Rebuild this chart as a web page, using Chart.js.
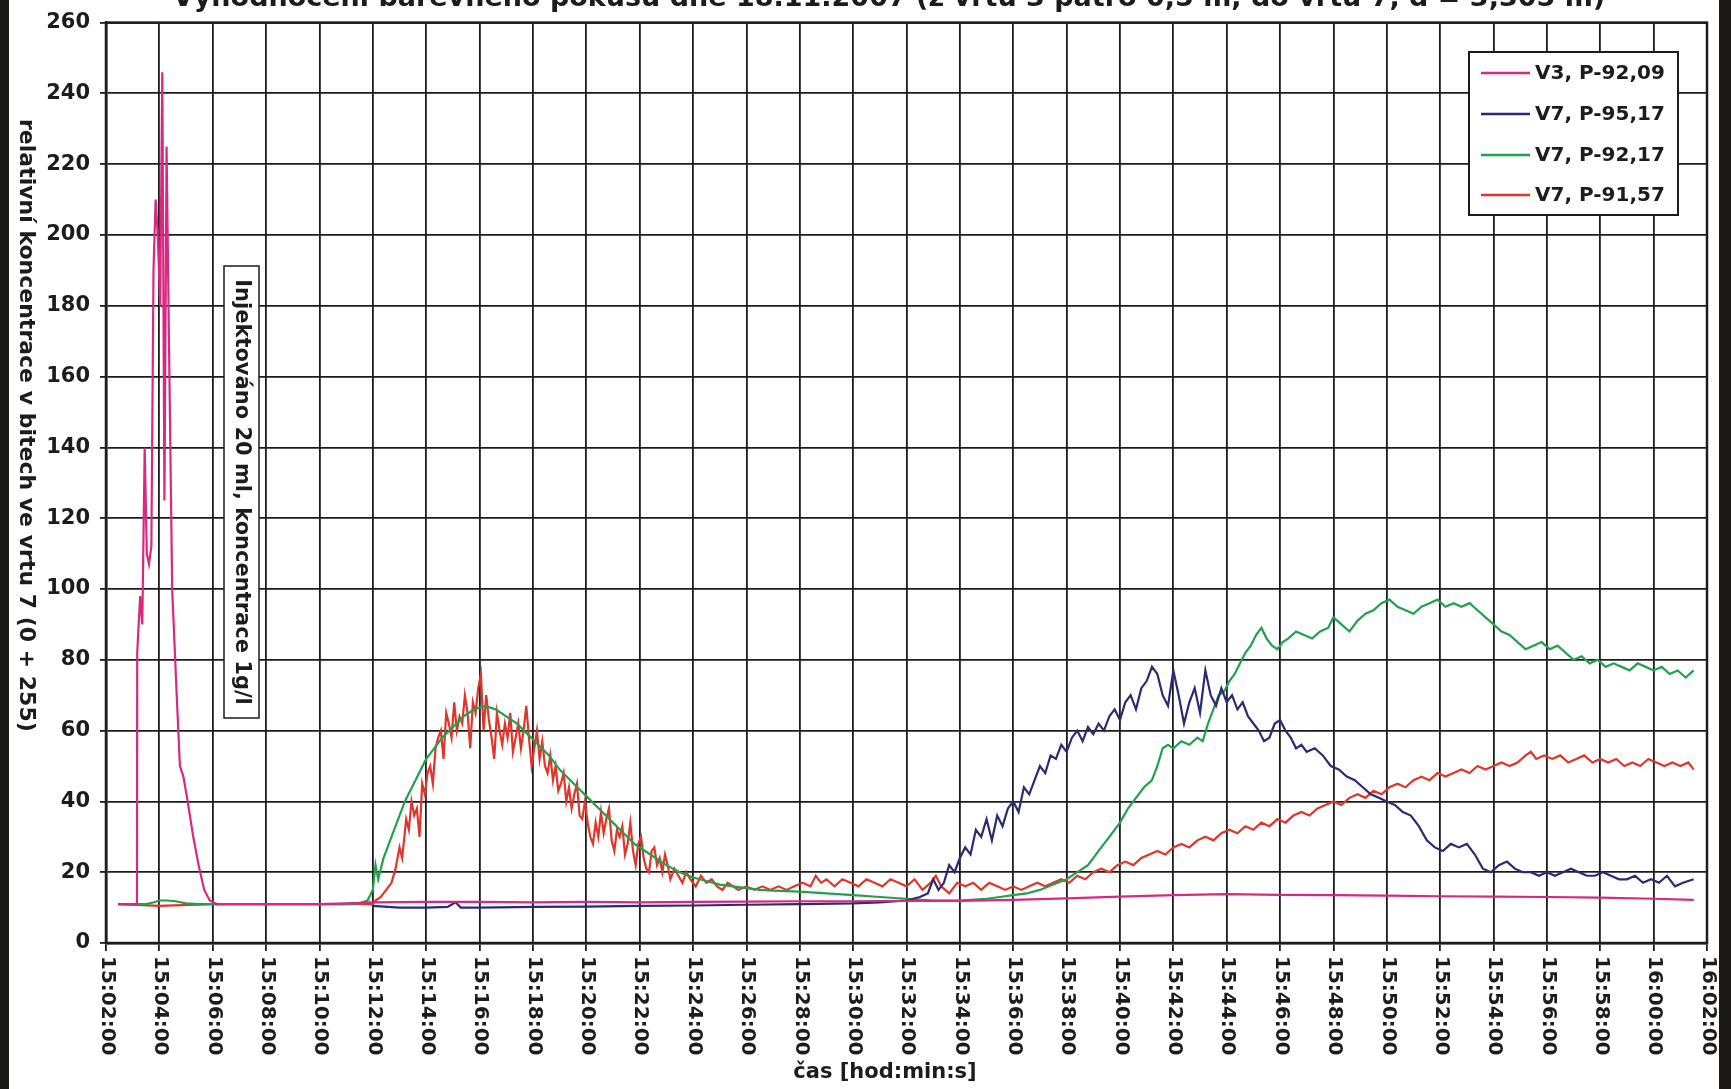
<!DOCTYPE html>
<html>
<head>
<meta charset="utf-8">
<script src="https://cdn.jsdelivr.net/npm/chart.js@4.4.1/dist/chart.umd.min.js"></script>
<style>
  html, body { margin: 0; padding: 0; background: #1b1714; }
  #wrap { width: 1731px; height: 1089px; }
</style>
</head>
<body>
<div id="wrap"><canvas id="chart" width="1731" height="1089"></canvas></div>
<script>
// time in minutes after 15:00, value in bits
const chartTitle = 'Vyhodnocení barevného pokusu dne 18.11.2007 (z vrtu 3 patro 0,5 m, do vrtu 7, d = 3,305 m)';
const yTitle = 'relativní koncentrace v bitech ve vrtu 7 (0 + 255)';
const xTitle = 'čas [hod:min:s]';
const noteText = 'Injektováno 20 ml, koncentrace 1g/l';
const seriesLabels = ['V3, P-92,09', 'V7, P-95,17', 'V7, P-92,17', 'V7, P-91,57'];
const seriesColors = ['#d8287f', '#2c2a72', '#22a04e', '#e0352a'];

const v3Data = [
  [2.45,11],[3.0,11],[3.16,11],[3.17,82],[3.28,98],[3.36,90],[3.45,140],[3.53,110],[3.61,107],[3.7,112],
  [3.78,190],[3.86,210],[3.94,200],[4.03,180],[4.11,246],[4.19,125],[4.27,225],[4.36,170],[4.48,100],[4.65,70],
  [4.77,50],[4.9,47],[5.06,40],[5.27,30],[5.47,22],[5.68,15],[5.89,12],[6.14,11],[7,11],[8,11],
  [9,11],[10,11],[11,11.2],[12,11.5],[14,11.6],[16,11.6],[18,11.5],[20,11.6],[22,11.5],[24,11.6],
  [26,11.7],[28,11.8],[30,11.8],[32,11.9],[34,11.9],[36,12.2],[38,12.6],[40,13.1],[42,13.5],[44,13.8],
  [46,13.6],[48,13.5],[50,13.4],[52,13.2],[54,13.1],[56,13],[58,12.8],[60,12.5],[61.5,12.2]
];

const v7aData = [
  [12.0,10.5],[13,10],[14,10],[14.8,10.2],[15.1,11.5],[15.3,10],[16,10],[18,10.2],[20,10.3],[22,10.5],
  [24,10.6],[26,10.8],[28,11],[30,11.2],[31,11.5],[32,12],[32.5,13],[32.8,14],[33.0,18],[33.2,15],
  [33.4,17],[33.6,22],[33.8,20],[34.0,24],[34.2,27],[34.4,25],[34.6,32],[34.8,30],[35.0,35],[35.2,29],
  [35.4,36],[35.6,33],[35.8,38],[36.0,40],[36.2,37],[36.4,44],[36.6,42],[36.8,46],[37.0,50],[37.2,48],
  [37.4,53],[37.6,52],[37.8,56],[38.0,54],[38.2,58],[38.4,60],[38.6,57],[38.8,61],[39.0,59],[39.2,62],
  [39.4,60],[39.6,64],[39.8,66],[40.0,63],[40.2,68],[40.4,70],[40.6,66],[40.8,72],[41.0,74],[41.2,78],
  [41.4,76],[41.6,70],[41.8,67],[42.0,77],[42.2,70],[42.4,62],[42.6,68],[42.8,72],[43.0,65],[43.2,77],
  [43.4,70],[43.6,67],[43.8,72],[44.0,68],[44.2,70],[44.4,66],[44.6,68],[44.8,64],[45.0,62],[45.2,60],
  [45.4,57],[45.6,58],[45.8,62],[46.0,63],[46.2,60],[46.4,58],[46.6,55],[46.8,56],[47.0,54],[47.3,55],
  [47.6,53],[47.9,50],[48.2,49],[48.5,47],[48.8,46],[49.1,44],[49.4,42],[49.7,41],[50.0,40],[50.3,39],
  [50.6,37],[50.9,36],[51.2,33],[51.5,29],[51.8,27],[52.1,26],[52.4,28],[52.7,27],[53.0,28],[53.3,25],
  [53.6,21],[53.9,20],[54.2,22],[54.5,23],[54.8,21],[55.1,20],[55.4,20],[55.7,19],[56.0,20],[56.3,19],
  [56.6,20],[56.9,21],[57.2,20],[57.5,19],[57.8,19],[58.1,20],[58.4,19],[58.7,18],[59.0,18],[59.3,19],
  [59.6,17],[59.9,18],[60.2,17],[60.5,19],[60.8,16],[61.1,17],[61.5,18]
];

const v7bData = [
  [2.45,11],[3,11],[3.5,11],[3.8,11.5],[4.0,12],[4.3,12],[4.6,11.8],[5.0,11.2],[5.5,11],[6,11],
  [8,11],[10,11],[11,11],[11.5,11.2],[11.8,12],[12.0,15],[12.1,22],[12.2,18],[12.4,24],[12.6,28],
  [12.8,32],[13.0,36],[13.2,40],[13.4,43],[13.6,46],[13.8,49],[14.0,52],[14.3,55],[14.6,58],[15.0,61],
  [15.4,64],[15.8,66],[16.2,67],[16.6,66],[17.0,64],[17.4,62],[17.8,59],[18.2,56],[18.6,53],[19.0,49],
  [19.4,46],[19.8,43],[20.2,40],[20.6,37],[21.0,34],[21.4,31],[21.8,28],[22.2,26],[22.6,24],[23.0,22],
  [23.5,20],[24.0,18.5],[24.5,17.5],[25.0,16.5],[25.5,16],[26.0,15.5],[26.5,15],[27.0,14.8],[28.0,14.5],[29.0,14],
  [30.0,13.5],[31.0,13],[32.0,12.5],[33.0,12],[34.0,12],[35.0,12.5],[35.5,13],[36.0,13.5],[36.5,14],[37.0,15],
  [37.5,16.5],[38.0,18],[38.4,20],[38.8,22],[39.2,26],[39.6,30],[40.0,34],[40.3,38],[40.6,41],[40.9,44],
  [41.2,46],[41.4,50],[41.6,55],[41.8,56],[42.0,55],[42.3,57],[42.6,56],[42.9,58],[43.1,57],[43.3,62],
  [43.5,66],[43.7,70],[43.9,71],[44.1,74],[44.3,76],[44.5,79],[44.7,82],[44.9,84],[45.1,87],[45.3,89],
  [45.5,86],[45.7,84],[45.9,83],[46.1,85],[46.3,86],[46.6,88],[46.9,87],[47.2,86],[47.5,88],[47.8,89],
  [48.0,92],[48.3,90],[48.6,88],[48.9,91],[49.2,93],[49.5,94],[49.8,96],[50.1,97],[50.4,95],[50.7,94],
  [51.0,93],[51.3,95],[51.6,96],[51.9,97],[52.2,95],[52.5,96],[52.8,95],[53.1,96],[53.4,94],[53.7,92],
  [54.0,90],[54.3,88],[54.6,87],[54.9,85],[55.2,83],[55.5,84],[55.8,85],[56.1,83],[56.4,84],[56.7,82],
  [57.0,80],[57.3,81],[57.6,79],[57.9,80],[58.2,78],[58.5,79],[58.8,78],[59.1,77],[59.4,79],[59.7,78],
  [60.0,77],[60.3,78],[60.6,76],[60.9,77],[61.2,75],[61.5,77]
];

const v7cData = [
  [2.45,11],[4,10.5],[6,11],[8,11],[10,11],[12.0,11],[12.1,12],[12.3,13],[12.5,15],[12.7,17],
  [12.85,21],[13.0,27],[13.1,24],[13.25,35],[13.35,32],[13.45,40],[13.55,36],[13.65,38],[13.75,30],[13.85,45],
  [13.95,42],[14.05,48],[14.15,50],[14.25,45],[14.35,55],[14.45,58],[14.55,60],[14.65,52],[14.75,65],[14.85,62],
  [14.95,58],[15.05,68],[15.15,60],[15.25,64],[15.35,62],[15.45,70],[15.55,65],[15.65,55],[15.75,68],[15.85,65],
  [15.95,72],[16.05,76],[16.15,60],[16.25,70],[16.35,63],[16.45,58],[16.55,52],[16.65,65],[16.75,60],[16.85,56],
  [16.95,62],[17.05,58],[17.15,65],[17.25,54],[17.35,58],[17.45,62],[17.55,55],[17.65,60],[17.75,67],[17.85,58],
  [17.95,50],[18.05,55],[18.15,60],[18.25,52],[18.35,57],[18.45,50],[18.55,48],[18.65,53],[18.75,46],[18.85,50],
  [18.95,43],[19.05,45],[19.15,48],[19.25,40],[19.35,44],[19.45,38],[19.55,42],[19.65,45],[19.75,36],[19.85,35],
  [19.95,40],[20.05,34],[20.15,30],[20.25,28],[20.35,34],[20.45,30],[20.55,37],[20.65,31],[20.75,35],[20.85,38],
  [20.95,29],[21.05,26],[21.15,32],[21.25,30],[21.35,33],[21.45,25],[21.55,28],[21.65,34],[21.75,26],[21.85,22],
  [21.95,28],[22.05,30],[22.15,24],[22.25,21],[22.35,20],[22.45,26],[22.55,27],[22.65,22],[22.75,24],[22.85,20],
  [22.95,25],[23.05,22],[23.15,18],[23.3,21],[23.45,19],[23.6,17],[23.75,20],[23.9,18],[24.1,16],[24.3,19],
  [24.5,17],[24.7,18],[24.9,16],[25.1,15],[25.3,17],[25.5,16],[25.7,15],[26.0,16],[26.3,15],[26.6,16],
  [26.9,15],[27.2,16],[27.5,15],[27.8,16],[28.1,17],[28.4,16],[28.6,19],[28.8,17],[29.0,18],[29.3,16],
  [29.6,18],[29.9,17],[30.2,16],[30.5,18],[30.8,17],[31.1,16],[31.4,18],[31.7,17],[32.0,16],[32.3,18],
  [32.6,15],[32.9,17],[33.1,19],[33.3,16],[33.6,14],[33.9,17],[34.2,16],[34.5,17],[34.8,15],[35.1,17],
  [35.4,16],[35.7,15],[36.0,16],[36.3,15],[36.6,16],[36.9,17],[37.2,16],[37.5,17],[37.8,18],[38.1,17],
  [38.4,19],[38.7,18],[39.0,20],[39.3,21],[39.6,20],[39.9,22],[40.2,23],[40.5,22],[40.8,24],[41.1,25],
  [41.4,26],[41.7,25],[42.0,27],[42.3,28],[42.6,27],[42.9,29],[43.2,30],[43.5,29],[43.8,31],[44.1,32],
  [44.4,31],[44.7,33],[45.0,32],[45.3,34],[45.6,33],[45.9,35],[46.2,34],[46.5,36],[46.8,37],[47.1,36],
  [47.4,38],[47.7,39],[48.0,40],[48.3,39],[48.6,41],[48.9,42],[49.2,41],[49.5,43],[49.8,42],[50.1,44],
  [50.4,45],[50.7,44],[51.0,46],[51.3,47],[51.6,46],[51.9,48],[52.2,47],[52.5,48],[52.8,49],[53.1,48],
  [53.4,50],[53.7,49],[54.0,50],[54.3,51],[54.6,50],[54.9,51],[55.2,53],[55.4,54],[55.6,52],[55.9,53],
  [56.2,52],[56.5,53],[56.8,51],[57.1,52],[57.4,53],[57.7,51],[58.0,52],[58.3,51],[58.6,52],[58.9,50],
  [59.2,51],[59.5,50],[59.8,52],[60.1,51],[60.4,50],[60.7,51],[61.0,50],[61.3,51],[61.5,49]
];

const xMin = 2, xMax = 62, xStep = 2;
const yMin = 0, yMax = 260, yStep = 20;

function fmtTime(t) {
    const h = 15 + Math.floor(t / 60);
    const m = Math.round(t % 60);
    return h + ':' + String(m).padStart(2, '0') + ':00';
}

const ink = '#1c1c1c';

// background with the dark frame at the sides
const backdrop = {
    id: 'backdrop',
    beforeDraw(chart) {
        const ctx = chart.ctx;
        ctx.save();
        ctx.fillStyle = '#1b1714';
        ctx.fillRect(0, 0, chart.width, chart.height);
        ctx.fillStyle = '#ffffff';
        ctx.fillRect(9, 0, 1710, chart.height);
        ctx.restore();
    }
};

// everything Chart.js can't place the way the original does
const decor = {
    id: 'decor',
    afterDraw(chart) {
        const ctx = chart.ctx;
        const area = chart.chartArea;
        const xs = chart.scales.x;
        ctx.save();

        // plot frame
        ctx.strokeStyle = ink;
        ctx.lineWidth = 2.5;
        ctx.strokeRect(area.left, area.top, area.right - area.left, area.bottom - area.top);

        // x tick labels, turned clockwise
        ctx.fillStyle = ink;
        ctx.font = 'bold 20px "DejaVu Sans"';
        ctx.textAlign = 'left';
        ctx.textBaseline = 'middle';
        xs.ticks.forEach(tk => {
            const px = xs.getPixelForValue(tk.value);
            ctx.save();
            ctx.translate(px + 1, area.bottom + 13);
            ctx.rotate(Math.PI / 2);
            ctx.fillText(fmtTime(tk.value), 0, 0);
            ctx.restore();
        });

        // x title
        ctx.font = 'bold 21px "DejaVu Sans"';
        ctx.textAlign = 'center';
        ctx.fillText(xTitle, 885, 1073);

        // y title, turned clockwise
        ctx.save();
        ctx.font = 'bold 22px "DejaVu Sans"';
        ctx.translate(26, 119);
        ctx.rotate(Math.PI / 2);
        ctx.textAlign = 'left';
        ctx.fillText(yTitle, 0, 0);
        ctx.restore();

        // title, cut by the top edge
        ctx.font = 'bold 27px "DejaVu Sans"';
        ctx.textAlign = 'center';
        ctx.textBaseline = 'alphabetic';
        ctx.fillText(chartTitle, 889, 6);

        // injection note
        ctx.fillStyle = '#ffffff';
        ctx.fillRect(224, 266, 35, 452);
        ctx.strokeStyle = ink;
        ctx.lineWidth = 1.5;
        ctx.strokeRect(224, 266, 35, 452);
        ctx.save();
        ctx.fillStyle = ink;
        ctx.font = 'bold 21px "DejaVu Sans"';
        ctx.translate(241, 492);
        ctx.rotate(Math.PI / 2);
        ctx.textAlign = 'center';
        ctx.textBaseline = 'middle';
        ctx.fillText(noteText, 0, 0);
        ctx.restore();

        // legend
        ctx.fillStyle = '#ffffff';
        ctx.fillRect(1469, 52, 209, 163);
        ctx.strokeStyle = ink;
        ctx.lineWidth = 2;
        ctx.strokeRect(1469, 52, 209, 163);
        const rows = [73, 114, 155, 195];
        ctx.font = 'bold 20px "DejaVu Sans"';
        ctx.textAlign = 'left';
        ctx.textBaseline = 'middle';
        chart.data.datasets.forEach((ds, i) => {
            ctx.strokeStyle = ds.borderColor;
            ctx.lineWidth = 2.5;
            ctx.beginPath();
            ctx.moveTo(1481, rows[i]);
            ctx.lineTo(1530, rows[i]);
            ctx.stroke();
            ctx.fillStyle = ink;
            ctx.fillText(ds.label, 1535, rows[i] + 1);
        });

        ctx.restore();
    }
};

const toPoints = arr => arr.map(p => ({ x: p[0], y: p[1] }));
const seriesData = [v3Data, v7aData, v7bData, v7cData];

new Chart(document.getElementById('chart'), {
    type: 'line',
    data: {
        datasets: seriesData.map((d, i) => ({
            label: seriesLabels[i],
            data: toPoints(d),
            borderColor: seriesColors[i],
            backgroundColor: seriesColors[i],
            borderWidth: 2.2,
            pointRadius: 0,
            tension: 0,
            fill: false
        }))
    },
    options: {
        responsive: false,
        animation: false,
        events: [],
        layout: { padding: { top: 18, right: 24, left: 0, bottom: 0 } },
        plugins: {
            legend: { display: false },
            tooltip: { enabled: false },
            title: { display: false }
        },
        scales: {
            x: {
                type: 'linear',
                min: xMin,
                max: xMax,
                afterFit: s => { s.height = 146; },
                ticks: { stepSize: xStep, display: false },
                grid: { color: ink, lineWidth: 1.8, tickLength: 8, tickColor: ink },
                border: { color: ink, width: 2.5 }
            },
            y: {
                min: yMin,
                max: yMax,
                afterFit: s => { s.width = 106; },
                ticks: {
                    stepSize: yStep,
                    color: ink,
                    padding: 10,
                    font: { family: 'DejaVu Sans', size: 21, weight: 'bold' }
                },
                grid: { color: ink, lineWidth: 1.8, tickLength: 6, tickColor: ink },
                border: { color: ink, width: 2.5 }
            }
        }
    },
    plugins: [backdrop, decor]
});
</script>
</body>
</html>
